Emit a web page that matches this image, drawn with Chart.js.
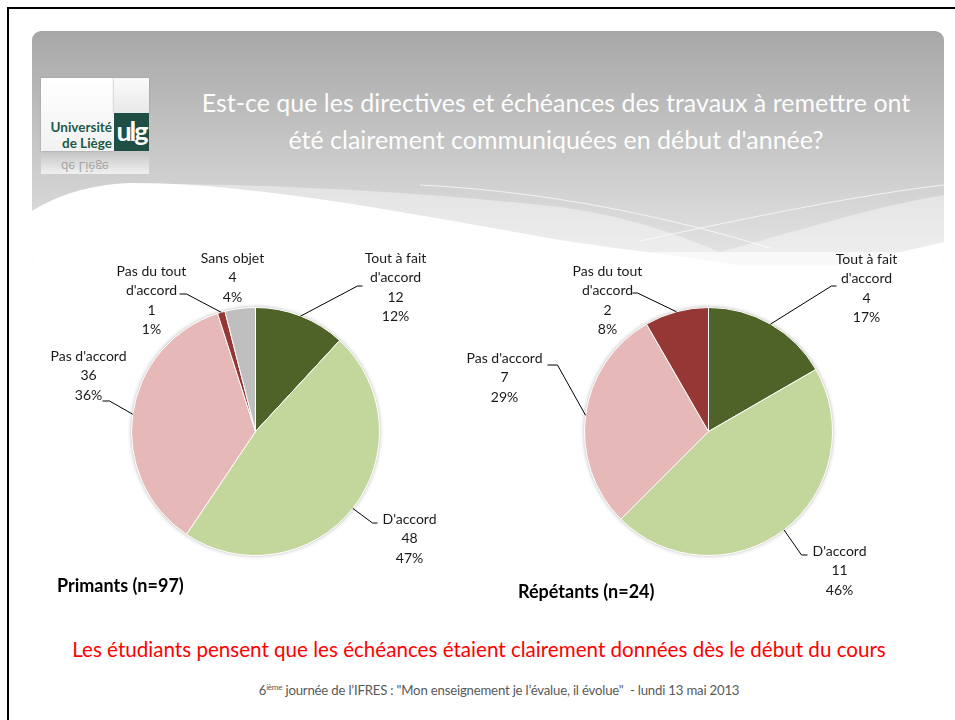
<!DOCTYPE html>
<html lang="fr">
<head>
<meta charset="UTF-8">
<title>Directives et échéances</title>
<script src="https://cdn.jsdelivr.net/npm/chart.js"></script>
<style>
    body { margin: 0; width: 955px; height: 720px; background: #fff; position: relative; overflow: hidden; font-family: Lato, 'Open Sans', sans-serif; }
    .cadre { position: absolute; left: 7px; top: 7px; width: 960px; height: 720px; border-left: 2px solid #000; border-top: 2px solid #000; }
    #entete { position: absolute; left: 0; top: 0; }
    .titre { position: absolute; left: 180px; width: 752px; top: 84px; text-align: center; color: rgba(255,255,255,0.97); font-size: 25px; line-height: 37px; }
    .logo { position: absolute; left: 41px; top: 78px; width: 108px; height: 100px; }
    .logo .blanc { position: absolute; left: 0; top: 0; width: 73px; height: 73px; background: linear-gradient(#fff, #f2f2f2); box-shadow: 0 0 2px #999; }
    .logo .haut { position: absolute; left: 73px; top: 0; width: 35px; height: 35px; background: linear-gradient(#fbfbfb, #e8e8e8); box-shadow: 0 0 2px #999; }
    .logo .vert { position: absolute; left: 73px; top: 35px; width: 35px; height: 38px; background: #1f4f44; color: #fff; font-weight: bold; font-size: 27px; line-height: 36px; text-align: center; letter-spacing: -2px; }
    .logo .nom { position: absolute; right: 37px; top: 42px; color: #1f5a48; font-weight: bold; font-size: 13.5px; line-height: 15.5px; text-align: right; white-space: nowrap; }
    .logo .reflet { position: absolute; left: 0; top: 76px; width: 108px; height: 20px; background: linear-gradient(rgba(255,255,255,0.7), rgba(255,255,255,0)); color: rgba(150,150,150,0.8); font-size: 13px; line-height: 14px; padding-left: 20px; box-sizing: border-box; transform: scaleY(-1); }
    canvas { position: absolute; }
    #graphe1 { left: 30px; top: 240px; }
    #graphe2 { left: 450px; top: 240px; }
    .sous { position: absolute; font-weight: bold; font-size: 18px; color: #000; }
    .conclusion { position: absolute; left: 0; width: 958px; top: 637px; text-align: center; color: #ff0000; font-size: 20.6px; }
    .pied { position: absolute; left: 0; width: 998px; top: 682px; text-align: center; color: #595959; font-size: 13.2px; letter-spacing: -0.2px; }
    .pied sup { font-size: 8px; }
</style>
</head>
<body>
<div class="cadre"></div>
<svg id="entete" width="955" height="270">
    <defs>
        <linearGradient id="degrade" x1="0" y1="31" x2="0" y2="262" gradientUnits="userSpaceOnUse">
            <stop offset="0" stop-color="#a7a7a7"/>
            <stop offset="0.72" stop-color="#d4d4d4"/>
            <stop offset="1" stop-color="#e4e4e4"/>
        </linearGradient>
        <clipPath id="bord"><rect x="32" y="31" width="912" height="235" rx="9"/></clipPath>
    </defs>
    <g clip-path="url(#bord)">
        <rect x="32" y="31" width="912" height="235" fill="url(#degrade)"/>
        <path d="M150,184 C300,184 450,195 560,207 C640,218 690,240 720,252 C800,230 880,205 944,195 L944,266 L150,266 Z" fill="rgba(255,255,255,0.4)"/>
        <path d="M420,185 C520,190 640,208 770,248" stroke="rgba(255,255,255,0.7)" stroke-width="1" fill="none"/>
        <path d="M640,241 C760,215 860,195 944,185" stroke="rgba(255,255,255,0.7)" stroke-width="1" fill="none"/>
        <path d="M30,212 C60,193 95,184 130,183 C250,182 420,215 560,240 C640,252 700,258 740,266 L30,266 Z" fill="#fff"/>
        <path d="M840,266 L944,242 L944,266 Z" fill="#fff"/>
        <rect x="32" y="252" width="912" height="14" fill="#fff" opacity="0.6"/>
    </g>
</svg>
<div class="logo">
    <div class="blanc"></div>
    <div class="haut"></div>
    <div class="vert">ulg</div>
    <div class="nom">Université<br>de Liège</div>
    <div class="reflet">de Liège</div>
</div>
<div class="titre">Est-ce que les directives et échéances des travaux à remettre ont<br>été clairement communiquées en début d'année?</div>

<canvas id="graphe1" width="420" height="380"></canvas>
<canvas id="graphe2" width="480" height="380"></canvas>

<div class="sous" style="left:57px; top:574px;">Primants (n=97)</div>
<div class="sous" style="left:518px; top:580px;">Répétants (n=24)</div>

<div class="conclusion">Les étudiants pensent que les échéances étaient clairement données dès le début du cours</div>
<div class="pied">6<sup>ième</sup> journée de l’IFRES : "Mon enseignement je l’évalue, il évolue"&nbsp; - lundi 13 mai 2013</div>

<script>
    // donnees
    const categories = ["Tout à fait d'accord", "D'accord", "Pas d'accord", "Pas du tout d'accord", "Sans objet"];
    const primants = [12, 48, 36, 1, 4];
    const repetants = [4, 11, 7, 2, 0];
    const couleurs = ['#4f6228', '#c3d69b', '#e6b9b8', '#953735', '#bfbfbf'];

    // coupure des noms sur deux lignes
    const coupures = {
        "Tout à fait d'accord": ["Tout à fait", "d'accord"],
        "Pas du tout d'accord": ["Pas du tout", "d'accord"]
    };

    // position des etiquettes par rapport au centre (tx, ty), coude du trait (ex, ey), fin horizontale (hx)
    const etiq1 = {
        "Tout à fait d'accord": { tx: 140, ty: -144, ex: 102, ey: -146, hx: 107 },
        "D'accord": { tx: 154, ty: 107, ex: 117, ey: 91, hx: 122 },
        "Pas d'accord": { tx: -167, ty: -56, ex: -146, ey: -31, hx: -153 },
        "Pas du tout d'accord": { tx: -104, ty: -131, ex: -69, ey: -138, hx: -76 },
        "Sans objet": { tx: -23, ty: -154 }
    };
    const etiq2 = {
        "Tout à fait d'accord": { tx: 158, ty: -143, ex: 123, ey: -146, hx: 128 },
        "D'accord": { tx: 131, ty: 139, ex: 93, ey: 123, hx: 99 },
        "Pas d'accord": { tx: -204, ty: -54, ex: -151, ey: -67, hx: -161 },
        "Pas du tout d'accord": { tx: -101, ty: -131, ex: -71, ey: -139, hx: -76 }
    };

    // pourcentages arrondis a 100 comme Excel
    function pourcents(vals) {
        var total = vals.reduce(function (a, b) { return a + b; }, 0);
        var brut = vals.map(function (v) { return v * 100 / total; });
        var res = brut.map(Math.floor);
        var reste = 100 - res.reduce(function (a, b) { return a + b; }, 0);
        var ordre = brut.map(function (r, i) { return i; }).sort(function (a, b) {
            return (brut[b] - res[b]) - (brut[a] - res[a]);
        });
        for (var k = 0; k < reste; k++) res[ordre[k]]++;
        return res;
    }

    const etiquettes = {
        id: 'etiquettes',
        afterDatasetsDraw(chart, args, opts) {
            var ctx = chart.ctx;
            var meta = chart.getDatasetMeta(0);
            var vals = chart.data.datasets[0].data;
            var pct = pourcents(vals);
            ctx.save();
            ctx.font = '14px Lato, "Open Sans", sans-serif';
            ctx.fillStyle = '#1a1a1a';
            ctx.strokeStyle = '#000';
            ctx.lineWidth = 1;
            ctx.textAlign = 'center';
            ctx.textBaseline = 'middle';
            meta.data.forEach(function (arc, i) {
                var nom = chart.data.labels[i];
                var pos = opts.positions[nom];
                if (!pos) return;
                var cx = arc.x, cy = arc.y;
                var lignes = (coupures[nom] || [nom]).concat([String(vals[i]), pct[i] + '%']);
                var h = 19.5;
                var y0 = cy + pos.ty - (lignes.length - 1) * h / 2;
                lignes.forEach(function (l, k) {
                    ctx.fillText(l, cx + pos.tx, y0 + k * h);
                });
                if (pos.ex !== undefined) {
                    var mil = (arc.startAngle + arc.endAngle) / 2;
                    var r = arc.outerRadius;
                    ctx.beginPath();
                    ctx.moveTo(cx + Math.cos(mil) * r, cy + Math.sin(mil) * r);
                    ctx.lineTo(cx + pos.ex, cy + pos.ey + 0.5);
                    ctx.lineTo(cx + pos.hx, cy + pos.ey + 0.5);
                    ctx.stroke();
                }
            });
            ctx.restore();
        }
    };

    const ombre = {
        id: 'ombre',
        beforeDatasetsDraw(chart) {
            var arc = chart.getDatasetMeta(0).data[0];
            if (!arc) return;
            var ctx = chart.ctx;
            ctx.save();
            ctx.shadowColor = 'rgba(0,0,0,0.35)';
            ctx.shadowBlur = 4;
            ctx.fillStyle = '#fff';
            ctx.beginPath();
            ctx.arc(arc.x, arc.y, arc.outerRadius, 0, Math.PI * 2);
            ctx.fill();
            ctx.restore();
        }
    };

    function camembert(id, valeurs, positions, padding) {
        var noms = [], vals = [], coul = [];
        valeurs.forEach(function (v, i) {
            if (v > 0) {
                noms.push(categories[i]);
                vals.push(v);
                coul.push(couleurs[i]);
            }
        });
        new Chart(document.getElementById(id), {
            type: 'pie',
            data: {
                labels: noms,
                datasets: [{
                    data: vals,
                    backgroundColor: coul,
                    borderColor: '#fff',
                    borderWidth: 1
                }]
            },
            options: {
                responsive: false,
                animation: false,
                layout: { padding: padding },
                plugins: {
                    legend: { display: false },
                    tooltip: { enabled: false },
                    etiquettes: { positions: positions }
                }
            },
            plugins: [ombre, etiquettes]
        });
    }

    camembert('graphe1', primants, etiq1, { left: 101, right: 70, top: 67, bottom: 64 });
    camembert('graphe2', repetants, etiq2, { left: 134, right: 97, top: 67, bottom: 64 });
</script>
</body>
</html>
